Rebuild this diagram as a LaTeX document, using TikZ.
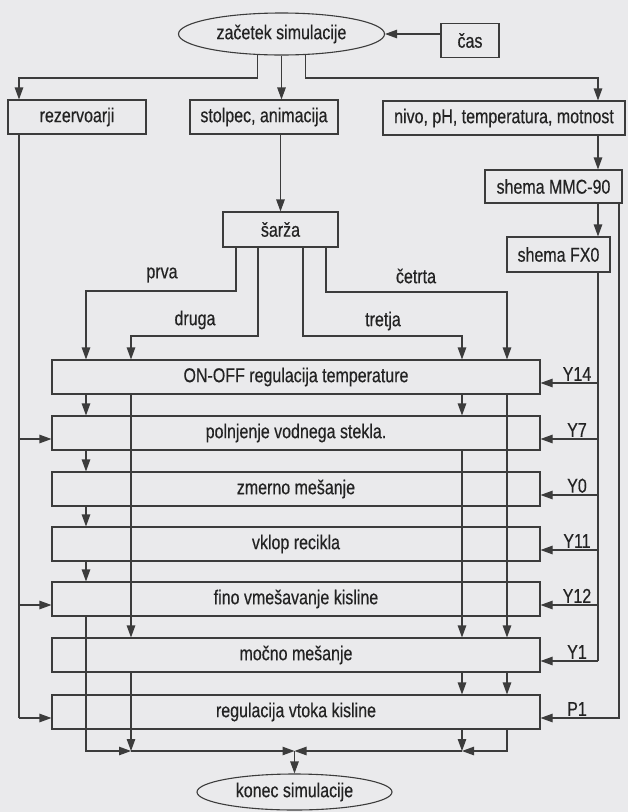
\documentclass[tikz,border=0pt]{standalone}
\usepackage{fontspec}
\setmainfont{Liberation Sans}[FakeStretch=0.8,FakeBold=0.4]
\usetikzlibrary{arrows.meta,shapes.geometric}
\definecolor{bg}{RGB}{234,234,236}
\definecolor{ln}{RGB}{60,60,60}
\definecolor{tx}{RGB}{35,35,35}
\begin{document}
\begin{tikzpicture}[x=1pt,y=-1pt,
  every node/.style={text=tx,font=\fontsize{20}{23}\selectfont},
  box/.style={draw=ln,line width=1.1pt,rectangle,inner sep=0pt},
  oval/.style={draw=ln,line width=1.1pt,ellipse,inner sep=0pt},
  conn/.style={draw=ln,line width=1.1pt},
  arr/.style={conn,-{Triangle[length=12pt,width=8.5pt]}},
  lab/.style={inner sep=2pt}]
\path[fill=bg] (0,0) rectangle (628,812);
\useasboundingbox (0,0) rectangle (628,812);
% nodes
\node[oval,minimum width=206pt,minimum height=42pt] (zac) at (281.5,34) {začetek simulacije};
\node[box,minimum width=58pt,minimum height=34pt] (cas) at (470,40.5) {čas};
\node[box,minimum width=138pt,minimum height=34pt] (rez) at (77,117) {rezervoarji};
\node[box,minimum width=148pt,minimum height=34pt] (stol) at (264,117) {stolpec, animacija};
\node[box,minimum width=242pt,minimum height=34pt] (nivo) at (504,118) {nivo, pH, temperatura, motnost};
\node[box,minimum width=137pt,minimum height=33pt] (mmc) at (553.5,186.5) {shema MMC-90};
\node[box,minimum width=103pt,minimum height=35pt] (fx0) at (558.5,254.5) {shema FX0};
\node[box,minimum width=115pt,minimum height=35pt] (sarza) at (280.5,229.5) {šarža};
\node[box,minimum width=488pt,minimum height=34pt] (b1) at (296,377) {ON-OFF regulacija temperature};
\node[box,minimum width=488pt,minimum height=34pt] (b2) at (296,433) {polnjenje vodnega stekla.};
\node[box,minimum width=488pt,minimum height=34pt] (b3) at (296,489) {zmerno mešanje};
\node[box,minimum width=488pt,minimum height=34pt] (b4) at (296,544) {vklop recikla};
\node[box,minimum width=488pt,minimum height=34pt] (b5) at (296,599) {fino vmešavanje kisline};
\node[box,minimum width=488pt,minimum height=34pt] (b6) at (296,655) {močno mešanje};
\node[box,minimum width=488pt,minimum height=34pt] (b7) at (296,712) {regulacija vtoka kisline};
\node[oval,minimum width=195pt,minimum height=36pt] (kon) at (294.5,792) {konec simulacije};
% helper coordinates
\coordinate (cL0) at (19,0);
\coordinate (cL1) at (86,0);
\coordinate (cL2) at (131,0);
\coordinate (cR1) at (462,0);
\coordinate (cR2) at (507,0);
\coordinate (cR3) at (598,0);
\coordinate (cR4) at (619,0);
\coordinate (cS1) at (236,0);
\coordinate (cS2) at (258,0);
\coordinate (cS3) at (303,0);
\coordinate (cS4) at (326,0);
\coordinate (cY) at (577,0);
\coordinate (kTL) at (19,78);
\coordinate (kTR) at (598,78);
\coordinate (kP) at (86,291);
\coordinate (kD) at (131,336);
\coordinate (kT) at (462,336);
\coordinate (kC) at (507,292);
\coordinate (kB2) at (131,751);
\coordinate (kB3) at (462,751);
\foreach \i in {1,...,7}{
  \coordinate (r\i) at ([yshift=-6pt]b\i.east);
  \coordinate (l\i) at ([yshift=-6pt]b\i.west);
}
% top connectors
\draw[arr] (cas.west |- zac.east) -- (zac.east);
\draw[arr] (zac.south) -- (stol.north -| zac.south);
\draw[arr] (zac.221) |- (kTL) -- (rez.north -| kTL);
\draw[arr] (zac.319) |- (kTR) -- (nivo.north -| kTR);
\draw[arr] (nivo.south -| cR3) -- (mmc.north -| cR3);
\draw[arr] (mmc.south -| cR3) -- (fx0.north -| cR3);
\draw[arr] (stol.south -| sarza.north) -- (sarza.north);
% sarza branches
\draw[arr] (sarza.south -| cS1) |- (kP) -- (b1.north -| kP);
\draw[arr] (sarza.south -| cS2) |- (kD) -- (b1.north -| kD);
\draw[arr] (sarza.south -| cS3) |- (kT) -- (b1.north -| kT);
\draw[arr] (sarza.south -| cS4) |- (kC) -- (b1.north -| kC);
\node (lprva) at (162,275) {prva};
\node (ldruga) at (195,320) {druga};
\node (ltretja) at (383,321) {tretja};
\node (lcetrta) at (416,276) {četrta};
% left chain
\foreach \a/\b in {b1/b2,b2/b3,b3/b4,b4/b5} \draw[arr] (\a.south -| cL1) -- (\b.north -| cL1);
\draw[arr] (b5.south -| cL1) |- (kB2);
\draw[arr] (b1.south -| cL2) -- (b6.north -| cL2);
\draw[arr] (b6.south -| cL2) -- (kB2);
\draw[arr] (kB2) -- (kon.north |- kB2);
\draw[arr] (kB3) -- (kon.north |- kB2);
\draw[arr] (kon.north |- kB2) -- (kon.north);
% right chain
\draw[arr] (b1.south -| cR1) -- (b2.north -| cR1);
\draw[arr] (b2.south -| cR1) -- (b6.north -| cR1);
\draw[arr] (b6.south -| cR1) -- (b7.north -| cR1);
\draw[arr] (b7.south -| cR1) -- (kB3);
\draw[arr] (b1.south -| cR2) -- (b6.north -| cR2);
\draw[arr] (b6.south -| cR2) -- (b7.north -| cR2);
\draw[arr] (b7.south -| cR2) |- (kB3);
% left inputs
\draw[conn] (rez.south -| cL0) -- (l7 -| cL0);
\foreach \i in {2,5,7} \draw[arr] (l\i -| cL0) -- (l\i);
% right inputs
\draw[conn] (fx0.south -| cR3) -- (r6 -| cR3);
\foreach \i in {1,...,6} \draw[arr] (r\i -| cR3) -- (r\i);
\draw[arr] (mmc.south -| cR4) |- (r7);
\node[lab,anchor=south] (y1) at (r1 -| cY) {Y14};
\node[lab,anchor=south] (y2) at (r2 -| cY) {Y7};
\node[lab,anchor=south] (y3) at (r3 -| cY) {Y0};
\node[lab,anchor=south] (y4) at (r4 -| cY) {Y11};
\node[lab,anchor=south] (y5) at (r5 -| cY) {Y12};
\node[lab,anchor=south] (y6) at (r6 -| cY) {Y1};
\node[lab,anchor=south] (y7) at (r7 -| cY) {P1};
\end{tikzpicture}
\end{document}
